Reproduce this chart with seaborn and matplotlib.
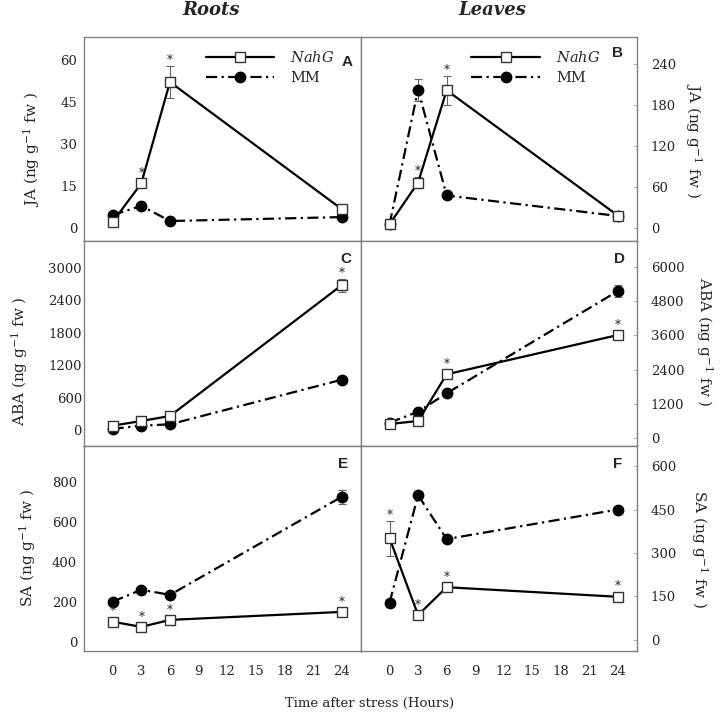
import numpy as np
import pandas as pd
import matplotlib
matplotlib.use("Agg")
import matplotlib.pyplot as plt
import seaborn as sns

sns.set_theme(style="white")
plt.rcParams["font.family"] = ["DejaVu Serif"]
plt.rcParams["mathtext.fontset"] = "dejavuserif"

# ---- data ----
hours = [0, 3, 6, 24]

ja_roots_nahg = [2.3, 16, 52, 6.8]
ja_roots_nahg_err = [0.5, 1.0, 5.8, 0.8]
ja_roots_mm = [4.7, 8, 2.6, 4]
ja_roots_mm_err = [0.5, 0.8, 0.3, 0.5]

ja_leaves_nahg = [6, 67, 202, 18.5]
ja_leaves_nahg_err = [2, 8, 21, 3]
ja_leaves_mm = [6, 203, 48, 18]
ja_leaves_mm_err = [2, 16, 4, 3]

aba_roots_nahg = [80, 166, 259, 2680]
aba_roots_nahg_err = [20, 20, 30, 120]
aba_roots_mm = [20, 80, 105, 930]
aba_roots_mm_err = [10, 10, 15, 30]

aba_leaves_nahg = [483, 588, 2233, 3617]
aba_leaves_nahg_err = [50, 50, 80, 100]
aba_leaves_mm = [528, 916, 1564, 5168]
aba_leaves_mm_err = [50, 60, 80, 200]

sa_roots_nahg = [103, 77, 112, 152]
sa_roots_nahg_err = [8, 8, 8, 10]
sa_roots_mm = [203, 263, 237, 728]
sa_roots_mm_err = [10, 10, 10, 35]

sa_leaves_nahg = [351, 86, 182, 149]
sa_leaves_nahg_err = [60, 8, 10, 8]
sa_leaves_mm = [129, 499, 348, 450]
sa_leaves_mm_err = [8, 10, 10, 8]

# significance stars on NahG points
stars_a = [0, 1, 1, 0]
stars_b = [0, 1, 1, 0]
stars_c = [0, 0, 0, 1]
stars_d = [0, 0, 1, 1]
stars_e = [1, 1, 1, 1]
stars_f = [1, 1, 1, 1]

W, H = 723, 714
fig = plt.figure(figsize=(W / 100, H / 100), dpi=100)

cols = [(84, 361), (361, 637)]
rows = [(37, 241), (241, 446), (446, 651)]

panels = [
    # letter, row, col, nahg, nahg_err, mm, mm_err, stars, ylim, yticks, hormone
    ("A", 0, 0, ja_roots_nahg, ja_roots_nahg_err, ja_roots_mm, ja_roots_mm_err, stars_a,
     (-4.5, 68), [0, 15, 30, 45, 60], "JA"),
    ("B", 0, 1, ja_leaves_nahg, ja_leaves_nahg_err, ja_leaves_mm, ja_leaves_mm_err, stars_b,
     (-18.6, 280), [0, 60, 120, 180, 240], "JA"),
    ("C", 1, 0, aba_roots_nahg, aba_roots_nahg_err, aba_roots_mm, aba_roots_mm_err, stars_c,
     (-296, 3494), [0, 600, 1200, 1800, 2400, 3000], "ABA"),
    ("D", 1, 1, aba_leaves_nahg, aba_leaves_nahg_err, aba_leaves_mm, aba_leaves_mm_err, stars_d,
     (-292, 6928), [0, 1200, 2400, 3600, 4800, 6000], "ABA"),
    ("E", 2, 0, sa_roots_nahg, sa_roots_nahg_err, sa_roots_mm, sa_roots_mm_err, stars_e,
     (-43.5, 981.5), [0, 200, 400, 600, 800], "SA"),
    ("F", 2, 1, sa_leaves_nahg, sa_leaves_nahg_err, sa_leaves_mm, sa_leaves_mm_err, stars_f,
     (-38, 669), [0, 150, 300, 450, 600], "SA"),
]

letter_pos = {"A": (0.949, 0.879), "B": (0.931, 0.92), "C": (0.945, 0.91),
              "D": (0.938, 0.91), "E": (0.935, 0.912), "F": (0.931, 0.912)}
ylab_pos = {"A": (-0.188, 0.446), "B": (1.203, 0.495), "C": (-0.231, 0.415),
            "D": (1.246, 0.507), "E": (-0.202, 0.50), "F": (1.228, 0.497)}
ytick_pad = {"A": 5, "B": 10, "C": 1.5, "D": 10, "E": 5, "F": 10}
legend_x = {"A": 0.44, "B": 0.40}

spine_col = "#808080"
dashdot = (0, (5, 2, 1, 2))

for letter, r, c, nahg, nahg_err, mm, mm_err, stars, ylim, yticks, hormone in panels:
    x0, x1 = cols[c]
    y0, y1 = rows[r]
    ax = fig.add_axes([x0 / W, 1 - y1 / H, (x1 - x0) / W, (y1 - y0) / H])

    df = pd.DataFrame({"hours": hours, "nahg": nahg, "mm": mm})

    ax.errorbar(hours, nahg, yerr=nahg_err, fmt="none", ecolor="#666666",
                elinewidth=0.8, capsize=3, capthick=0.8, zorder=1)
    ax.errorbar(hours, mm, yerr=mm_err, fmt="none", ecolor="#666666",
                elinewidth=0.8, capsize=3, capthick=0.8, zorder=1)

    sns.lineplot(data=df, x="hours", y="mm", ax=ax, color="black", linewidth=1.6,
                 linestyle=dashdot, marker="o", markersize=7.5,
                 markerfacecolor="black", markeredgecolor="black",
                 markeredgewidth=1, label="MM", errorbar=None, zorder=2)
    sns.lineplot(data=df, x="hours", y="nahg", ax=ax, color="black", linewidth=1.6,
                 marker="s", markersize=7, markerfacecolor="white",
                 markeredgecolor="#333333", markeredgewidth=1,
                 label=r"$\mathit{NahG}$", errorbar=None, zorder=3)

    ax.set_xlim(-3, 26)
    ax.set_ylim(*ylim)
    ax.set_yticks(yticks)
    ax.set_xlabel("")
    ax.set_ylabel("")

    for s in ax.spines.values():
        s.set_color(spine_col)
        s.set_linewidth(1)

    if r == 2:
        ax.set_xticks(range(0, 25, 3))
        ax.tick_params(axis="x", direction="in", length=3, width=0.6,
                       color="#aaaaaa", labelsize=9.5, pad=10)
    else:
        ax.set_xticks([])

    ax.tick_params(axis="y", direction="in", length=3, width=0.6,
                   color="#aaaaaa", labelsize=9.5, pad=ytick_pad[letter])
    if c == 1:
        ax.yaxis.tick_right()

    # stars above NahG points
    span = ylim[1] - ylim[0]
    for h, v, e, s in zip(hours, nahg, nahg_err, stars):
        if s:
            ax.text(h, v + max(e, 0.023 * span) + 0.025 * span, "*", ha="center",
                    va="center", fontsize=8.5, color="#222222", zorder=5)

    ax.text(*letter_pos[letter], letter, transform=ax.transAxes, ha="center",
            va="center", fontsize=11, fontweight="bold",
            family=["Liberation Sans"])

    rot = 90 if c == 0 else -90
    ax.text(*ylab_pos[letter], hormone + r" (ng g$^{\mathregular{-1}}$ fw )",
            transform=ax.transAxes, rotation=rot, ha="center", va="center",
            fontsize=11)

    leg = ax.get_legend()
    if letter in legend_x:
        h_, l_ = ax.get_legend_handles_labels()
        order = [l_.index(r"$\mathit{NahG}$"), l_.index("MM")]
        ax.legend([h_[i] for i in order], [l_[i] for i in order],
                  loc="upper left", bbox_to_anchor=(legend_x[letter], 0.935),
                  frameon=False, fontsize=10.5, handlelength=4.7,
                  handletextpad=1.1, labelspacing=0.4, borderpad=0,
                  borderaxespad=0)
    elif leg is not None:
        leg.remove()

fig.text(211 / W, 1 - 10 / H, "Roots", ha="center", va="center", fontsize=13,
         fontweight="bold", fontstyle="italic")
fig.text(492 / W, 1 - 10 / H, "Leaves", ha="center", va="center", fontsize=13,
         fontweight="bold", fontstyle="italic")
fig.text(370 / W, 1 - 703 / H, "Time after stress (Hours)", ha="center",
         va="center", fontsize=9.5)

fig.savefig("out.png", dpi=100)
